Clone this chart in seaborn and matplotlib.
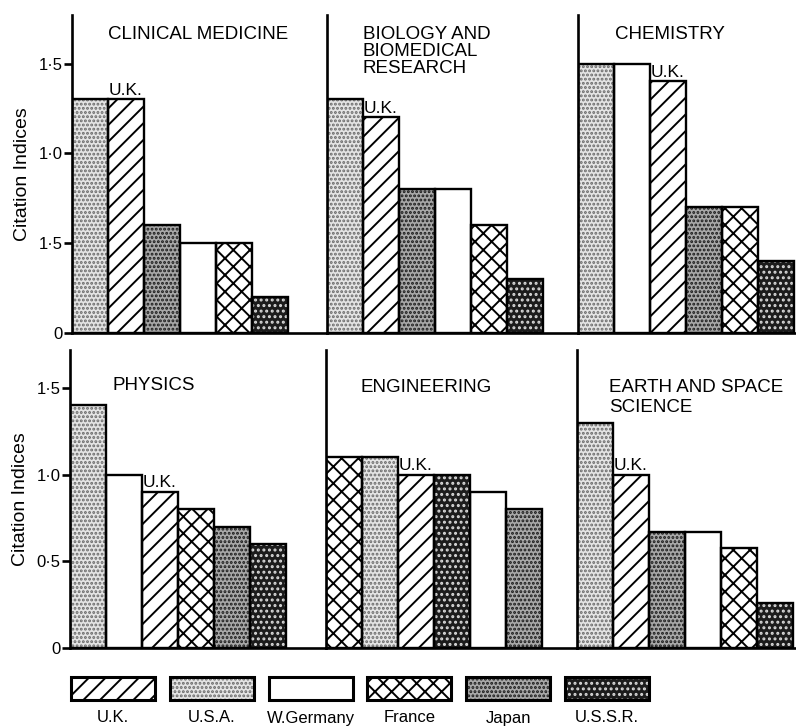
import numpy as np
import pandas as pd
import matplotlib
matplotlib.use("Agg")
import matplotlib.pyplot as plt
import seaborn as sns
from matplotlib.patches import Rectangle

# ---------------- data ----------------
countries = ["U.K.", "U.S.A.", "W.Germany", "France", "Japan", "U.S.S.R."]
fields = ["CLINICAL MEDICINE", "BIOLOGY AND\nBIOMEDICAL\nRESEARCH", "CHEMISTRY",
          "PHYSICS", "ENGINEERING", "EARTH AND SPACE\nSCIENCE"]
uk = [1.3, 1.2, 1.4, 0.9, 1.0, 1.0]
usa = [1.3, 1.3, 1.5, 1.4, 1.1, 1.3]
wgermany = [0.5, 0.8, 1.5, 1.0, 0.9, 0.67]
france = [0.5, 0.6, 0.7, 0.8, 1.1, 0.58]
japan = [0.6, 0.8, 0.7, 0.7, 0.8, 0.67]
ussr = [0.2, 0.3, 0.4, 0.6, 1.0, 0.26]
panel_orders = [
    ["U.S.A.", "U.K.", "Japan", "W.Germany", "France", "U.S.S.R."],
    ["U.S.A.", "U.K.", "Japan", "W.Germany", "France", "U.S.S.R."],
    ["U.S.A.", "W.Germany", "U.K.", "Japan", "France", "U.S.S.R."],
    ["U.S.A.", "W.Germany", "U.K.", "France", "Japan", "U.S.S.R."],
    ["France", "U.S.A.", "U.K.", "U.S.S.R.", "W.Germany", "Japan"],
    ["U.S.A.", "U.K.", "Japan", "W.Germany", "France", "U.S.S.R."],
]
y_ticks = [0, 0.5, 1.0, 1.5]
y_tick_labels_top = ["0", "1·5", "1·0", "1·5"]
y_tick_labels_bottom = ["0", "0·5", "1·0", "1·5"]
y_label = "Citation Indices"

# ---------------- style ----------------
sns.set_theme(style="white")
plt.rcParams["font.family"] = ["Liberation Sans", "DejaVu Sans"]
plt.rcParams["hatch.linewidth"] = 1.4

styles = {
    "U.K.": dict(face="white", hatch="//", hc="black"),
    "U.S.A.": dict(face="#e4e4e4", hatch="....", hc="#6a6a6a"),
    "W.Germany": dict(face="white", hatch="", hc="black"),
    "France": dict(face="white", hatch="xx", hc="black"),
    "Japan": dict(face="#a8a8a8", hatch="....", hc="#1a1a1a"),
    "U.S.S.R.": dict(face="#1c1c1c", hatch="...", hc="#d8d8d8"),
}

W, H = 796, 728
fig = plt.figure(figsize=(W / 100, H / 100), dpi=100)

values_by_country = {"U.K.": uk, "U.S.A.": usa, "W.Germany": wgermany,
                     "France": france, "Japan": japan, "U.S.S.R.": ussr}

# axes geometry in pixels: (left, top, right, bottom)
bar_px = 36.0
geom = [
    (72, 15, 327, 333), (327, 15, 578, 333), (578, 15, 796, 333),
    (70, 350, 326, 648), (326, 350, 577, 648), (577, 350, 796, 648),
]
ytops = [1.77, 1.77, 1.77, 1.72, 1.72, 1.72]
title_dx = [36, 36, 37, 43, 34, 32]
title_dy = [11, 11, 11, 27, 29, 29]
title_ls = [1.0, 1.0, 1.0, 1.0, 1.0, 1.2]

for i, field in enumerate(fields):
    l, t, r, b = geom[i]
    ax = fig.add_axes([l / W, (H - b) / H, (r - l) / W, (b - t) / H])
    df = pd.DataFrame({"country": countries,
                       "value": [values_by_country[c][i] for c in countries]})
    order = panel_orders[i]
    sns.barplot(data=df, x="country", y="value", order=order, width=1.0,
                color="white", saturation=1, errorbar=None, linewidth=0, ax=ax)
    n = len(ax.patches)
    for p, c in zip(ax.patches[:n], order):
        st = styles[c]
        p.set_facecolor(st["face"])
        p.set_edgecolor(st["hc"])
        p.set_hatch(st["hatch"])
        p.set_linewidth(0)
    sns.barplot(data=df, x="country", y="value", order=order, width=1.0,
                color="black", fill=False, errorbar=None, linewidth=1.7, ax=ax)
    for p in ax.patches[n:]:
        p.set_edgecolor("black")
        p.set_facecolor("none")

    ax.set_xlim(-0.5, -0.5 + (r - l) / bar_px)
    ax.set_ylim(0, ytops[i])
    ax.set_xticks([])
    ax.set_xlabel("")
    sns.despine(ax=ax, top=True, right=True)
    for s in ("left", "bottom"):
        ax.spines[s].set_linewidth(1.9)
        ax.spines[s].set_color("black")
    if i % 3 == 0:
        ax.set_yticks(y_ticks)
        ax.set_yticklabels(y_tick_labels_top if i < 3 else y_tick_labels_bottom)
        ax.tick_params(axis="y", left=True, length=6, width=1.9, direction="out",
                       labelsize=12, pad=1, colors="black")
        ax.set_ylabel(y_label, fontsize=14, labelpad=5, color="black")
    else:
        ax.set_yticks([])
        ax.set_ylabel("")
    # panel title
    ax.text(title_dx[i] / (r - l), 1 - title_dy[i] / (b - t),
            field, transform=ax.transAxes, ha="left", va="top",
            fontsize=13.5, linespacing=title_ls[i], color="black")
    # U.K. label
    k = order.index("U.K.")
    ax.annotate("U.K.", xy=(k - 0.5, uk[i]), xytext=(0.3, 1.2),
                textcoords="offset points", ha="left", va="bottom",
                fontsize=12.5, color="black")

# ---------------- legend ----------------
for j, c in enumerate(countries):
    xc = (113 + 98.8 * j) / W
    st = styles[c]
    rect = Rectangle((xc - 42 / W, 28 / H), 84 / W, 23 / H, transform=fig.transFigure,
                     facecolor=st["face"], edgecolor=st["hc"], hatch=st["hatch"],
                     linewidth=0)
    fig.add_artist(rect)
    fig.add_artist(Rectangle((xc - 42 / W, 28 / H), 84 / W, 23 / H,
                             transform=fig.transFigure, facecolor="none",
                             edgecolor="black", linewidth=2.2))
    fig.text(xc, 10 / H, c, ha="center", va="center", fontsize=12, color="black")

fig.savefig("out.png", dpi=100)
